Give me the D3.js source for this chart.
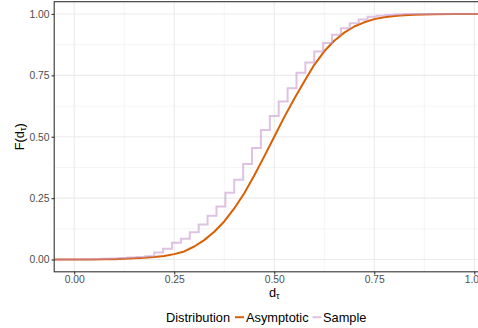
<!DOCTYPE html>
<html>
<head>
<meta charset="utf-8">
<script src="https://cdn.jsdelivr.net/npm/d3@7/dist/d3.min.js"></script>
<style>
  html, body { margin: 0; padding: 0; background: #fff; overflow: hidden; }
  svg { display: block; font-family: "Liberation Sans", Arial, sans-serif; }
</style>
</head>
<body>
<svg id="chart" width="510" height="328"></svg>
<script>
// Asymptotic CDF of the normalised Kendall distance d_tau
const asymX = [-0.05, 0.000, 0.025, 0.050, 0.075, 0.100, 0.125, 0.150, 0.175, 0.200, 0.225,
               0.250, 0.275, 0.300, 0.325, 0.350, 0.375, 0.400, 0.425, 0.450, 0.475,
               0.500, 0.525, 0.550, 0.575, 0.600, 0.625, 0.650, 0.675, 0.700, 0.725,
               0.750, 0.775, 0.800, 0.825, 0.850, 0.900, 0.950, 1.000, 1.05];
const asymF = [0.000, 0.000, 0.000, 0.000, 0.001, 0.001, 0.003, 0.005, 0.007, 0.010, 0.014,
               0.022, 0.033, 0.053, 0.079, 0.113, 0.155, 0.208, 0.270, 0.342, 0.420,
               0.500, 0.580, 0.655, 0.725, 0.793, 0.848, 0.891, 0.924, 0.949, 0.966,
               0.979, 0.987, 0.992, 0.995, 0.997, 0.999, 1.000, 1.000, 1.000];

// Empirical CDF of the sample: discordant pairs k out of 45, and F after each jump
const totalPairs = 45;
const sampleK = [0, 1, 2, 3, 4, 5, 6, 7, 8, 9, 10, 11, 12, 13, 14, 15, 16, 17, 18, 19,
                 20, 21, 22, 23, 24, 25, 26, 27, 28, 29, 30, 31, 32, 33, 34, 35, 36, 37];
const sampleF = [0.000, 0.001, 0.002, 0.003, 0.004, 0.006, 0.008, 0.010, 0.013, 0.029,
                 0.044, 0.068, 0.085, 0.111, 0.143, 0.178, 0.216, 0.272, 0.325, 0.389,
                 0.454, 0.527, 0.585, 0.644, 0.698, 0.761, 0.802, 0.847, 0.882, 0.915,
                 0.942, 0.962, 0.978, 0.989, 0.993, 0.996, 0.998, 1.000];

const xTicks = [0, 0.25, 0.5, 0.75, 1];
const yTicks = [0, 0.25, 0.5, 0.75, 1];
const xMinor = [0.125, 0.375, 0.625, 0.875];
const yMinor = [0.125, 0.375, 0.625, 0.875];

const seriesNames = ["Asymptotic", "Sample"];
const seriesColors = ["#d95f02", "#c58fcb"];

const svg = d3.select("#chart");
const panel = { left: 54.2, right: 494.3, top: 1.7, bottom: 271.8 };

const x = d3.scaleLinear().domain([-0.05, 1.05]).range([panel.left, panel.right]);
const y = d3.scaleLinear().domain([-0.05, 1.05]).range([panel.bottom, panel.top]);

// grid
const grid = svg.append("g");
grid.selectAll(".xminor").data(xMinor).join("line")
  .attr("x1", d => x(d)).attr("x2", d => x(d))
  .attr("y1", panel.top).attr("y2", panel.bottom)
  .attr("stroke", "#f1f1f1").attr("stroke-width", 0.8);
grid.selectAll(".yminor").data(yMinor).join("line")
  .attr("y1", d => y(d)).attr("y2", d => y(d))
  .attr("x1", panel.left).attr("x2", panel.right)
  .attr("stroke", "#f1f1f1").attr("stroke-width", 0.8);
grid.selectAll(".xmajor").data(xTicks).join("line")
  .attr("x1", d => x(d)).attr("x2", d => x(d))
  .attr("y1", panel.top).attr("y2", panel.bottom)
  .attr("stroke", "#ebebeb").attr("stroke-width", 1.1);
grid.selectAll(".ymajor").data(yTicks).join("line")
  .attr("y1", d => y(d)).attr("y2", d => y(d))
  .attr("x1", panel.left).attr("x2", panel.right)
  .attr("stroke", "#ebebeb").attr("stroke-width", 1.1);

// curves
const asymPts = asymX.map((v, i) => [v, asymF[i]]);
const samplePts = [[-0.05, 0]].concat(sampleK.map((k, i) => [k / totalPairs, sampleF[i]]), [[1.05, 1]]);

const line = d3.line().x(d => x(d[0])).y(d => y(d[1]));
svg.append("path").datum(asymPts)
  .attr("d", line)
  .attr("fill", "none").attr("stroke", seriesColors[0])
  .attr("stroke-width", 2).attr("stroke-linejoin", "round");
svg.append("path").datum(samplePts)
  .attr("d", line.curve(d3.curveStepAfter))
  .attr("fill", "none").attr("stroke", seriesColors[1])
  .attr("stroke-opacity", 0.55)
  .attr("stroke-width", 2);

// panel border
svg.append("rect")
  .attr("x", panel.left).attr("y", panel.top)
  .attr("width", panel.right - panel.left).attr("height", panel.bottom - panel.top)
  .attr("fill", "none").attr("stroke", "#333333").attr("stroke-width", 1.1);

// axes
const fmt = d3.format(".2f");
const xAxis = d3.axisBottom(x).tickValues(xTicks).tickFormat(fmt).tickSize(2.7).tickPadding(1.2);
const yAxis = d3.axisLeft(y).tickValues(yTicks).tickFormat(fmt).tickSize(2.7).tickPadding(2);

const gx = svg.append("g").attr("transform", `translate(0,${panel.bottom})`).call(xAxis);
const gy = svg.append("g").attr("transform", `translate(${panel.left},0)`).call(yAxis);
[gx, gy].forEach(g => {
  g.select(".domain").remove();
  g.selectAll(".tick line").attr("stroke", "#333333").attr("stroke-width", 1.1);
  g.selectAll(".tick text").attr("fill", "#4d4d4d")
    .style("font-size", "10.3px").style("font-family", "Liberation Sans, Arial, sans-serif");
});

// axis titles
const xt = svg.append("text")
  .attr("x", (panel.left + panel.right) / 2).attr("y", 296.5)
  .attr("text-anchor", "middle").attr("fill", "#000").style("font-size", "12.8px");
xt.append("tspan").text("d");
xt.append("tspan").attr("dy", 2.5).style("font-size", "9px").text("τ");

const yt = svg.append("text")
  .attr("transform", `translate(23.5,${(panel.top + panel.bottom) / 2}) rotate(-90)`)
  .attr("text-anchor", "middle").attr("fill", "#000").style("font-size", "12.8px");
yt.append("tspan").text("F(d");
yt.append("tspan").attr("dy", 2.5).style("font-size", "9px").text("τ");
yt.append("tspan").attr("dy", -2.5).text(")");

// legend
const lg = svg.append("g").attr("transform", "translate(0,321.5)");
lg.append("text").attr("x", 166).attr("y", 0).attr("fill", "#000")
  .style("font-size", "12.8px").text("Distribution");
const keyX = [235, 312.5];
const labX = [246, 323];
seriesNames.forEach((name, i) => {
  lg.append("line")
    .attr("x1", keyX[i]).attr("x2", keyX[i] + 9)
    .attr("y1", -4.3).attr("y2", -4.3)
    .attr("stroke", seriesColors[i]).attr("stroke-width", 2)
    .attr("stroke-opacity", i === 1 ? 0.55 : 1);
  lg.append("text").attr("x", labX[i]).attr("y", 0).attr("fill", "#000")
    .style("font-size", "12.8px").text(name);
});
</script>
</body>
</html>
